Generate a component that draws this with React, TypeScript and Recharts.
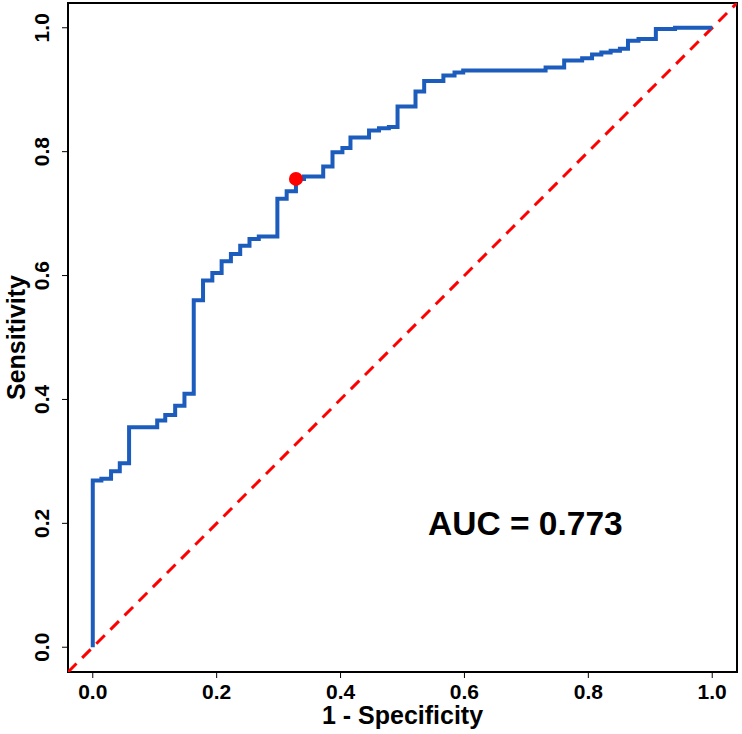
import React from 'react';
import {
  ComposedChart,
  Line,
  Scatter,
  XAxis,
  YAxis,
  ReferenceArea,
  ReferenceDot,
} from 'recharts';

// ROC step corners (top of each rise)
const fpr = [
  0, 0, 0.0139, 0.0295, 0.0436, 0.0586, 0.104, 0.117, 0.133, 0.148, 0.163, 0.178, 0.193,
  0.208, 0.223, 0.238, 0.253, 0.268, 0.298, 0.313, 0.328, 0.341, 0.372, 0.387, 0.403,
  0.416, 0.446, 0.462, 0.478, 0.492, 0.521, 0.535, 0.566, 0.584, 0.598, 0.731, 0.761,
  0.79, 0.806, 0.821, 0.836, 0.851, 0.864, 0.881, 0.909, 0.94, 1.0,
];
const tpr = [
  0, 0.269, 0.272, 0.284, 0.297, 0.355, 0.366, 0.375, 0.39, 0.409, 0.56, 0.592, 0.604,
  0.623, 0.635, 0.648, 0.659, 0.663, 0.724, 0.736, 0.756, 0.76, 0.776, 0.799, 0.806,
  0.823, 0.834, 0.838, 0.84, 0.873, 0.897, 0.914, 0.923, 0.928, 0.931, 0.936, 0.947,
  0.951, 0.957, 0.96, 0.963, 0.966, 0.979, 0.982, 0.998, 1.0, 1.0,
];

// best cut-off point
const cutoff = [{ x: 0.328, y: 0.756 }];
// chance line endpoints (spans the whole panel)
const chanceLine = [-0.04, 1.04];
const ticks = [0, 0.2, 0.4, 0.6, 0.8, 1.0];
const aucText = 'AUC = 0.773';
const domain: [number, number] = [-0.04, 1.04];

const FONT = '"Liberation Sans", Arial, sans-serif';

const rocData = fpr.map((x, i) => ({ x, y: tpr[i] }));
const diagData = chanceLine.map((v) => ({ x: v, y: v }));

function YTick(props: any) {
  const { x, y, payload } = props;
  return (
    <text
      x={x}
      y={y}
      transform={`rotate(-90, ${x}, ${y})`}
      textAnchor="middle"
      fontFamily={FONT}
      fontWeight={700}
      fontSize={21}
      fill="#000"
    >
      {payload.value.toFixed(1)}
    </text>
  );
}

export default function App() {
  return (
    <div style={{ width: 742, height: 734, background: '#fff' }}>
      <style>{'body{margin:0}'}</style>
      <ComposedChart
        width={742}
        height={734}
        margin={{ top: 3, right: 5, bottom: 0, left: 0 }}
      >
        <XAxis
          type="number"
          dataKey="x"
          domain={domain}
          allowDataOverflow
          ticks={ticks}
          tickFormatter={(v: number) => v.toFixed(1)}
          height={62}
          axisLine={false}
          tickLine={{ stroke: '#000', strokeWidth: 1 }}
          tickSize={6}
          tickMargin={6}
          tick={{ fill: '#000', fontSize: 21, fontWeight: 700, fontFamily: FONT }}
          label={{
            content: (p: any) => {
              const vb = p.viewBox;
              return (
                <text
                  x={vb.x + vb.width / 2}
                  y={vb.y + 52}
                  textAnchor="middle"
                  fontFamily={FONT}
                  fontWeight={700}
                  fontSize={25}
                  fill="#000"
                >
                  1 - Specificity
                </text>
              );
            },
          }}
        />
        <YAxis
          type="number"
          dataKey="y"
          domain={domain}
          allowDataOverflow
          ticks={ticks}
          width={68}
          axisLine={false}
          tickLine={{ stroke: '#000', strokeWidth: 1 }}
          tickSize={6}
          tickMargin={13}
          tick={<YTick />}
          label={{
            content: (p: any) => {
              const vb = p.viewBox;
              const cy = vb.y + vb.height / 2;
              return (
                <text
                  x={25}
                  y={cy}
                  transform={`rotate(-90, 25, ${cy})`}
                  textAnchor="middle"
                  fontFamily={FONT}
                  fontWeight={700}
                  fontSize={25}
                  fill="#000"
                >
                  Sensitivity
                </text>
              );
            },
          }}
        />
        <ReferenceArea
          x1={domain[0]}
          x2={domain[1]}
          y1={domain[0]}
          y2={domain[1]}
          fill="none"
          fillOpacity={0}
          stroke="#000"
          strokeWidth={2}
          ifOverflow="visible"
        />
        <Line
          data={diagData}
          dataKey="y"
          type="linear"
          stroke="#ff0000"
          strokeWidth={3}
          strokeDasharray="12 8"
          dot={false}
          activeDot={false}
          isAnimationActive={false}
        />
        <Line
          data={rocData}
          dataKey="y"
          type="stepAfter"
          stroke="#1c5cbc"
          strokeWidth={4}
          dot={false}
          activeDot={false}
          isAnimationActive={false}
        />
        <Scatter
          data={cutoff}
          dataKey="y"
          fill="#ff0000"
          isAnimationActive={false}
          shape={(p: any) => <circle cx={p.cx} cy={p.cy} r={7} fill="#ff0000" />}
        />
        <ReferenceDot
          x={0.7}
          y={0.2}
          r={0}
          stroke="none"
          fill="none"
          label={{
            content: (p: any) => {
              const vb = p.viewBox;
              const cx = vb.x + (vb.width || 0) / 2;
              const cy = vb.y + (vb.height || 0) / 2;
              return (
                <text
                  x={cx - 1}
                  y={cy + 12}
                  textAnchor="middle"
                  fontFamily={FONT}
                  fontWeight={700}
                  fontSize={33.5}
                  fill="#000"
                >
                  {aucText}
                </text>
              );
            },
          }}
        />
      </ComposedChart>
    </div>
  );
}
